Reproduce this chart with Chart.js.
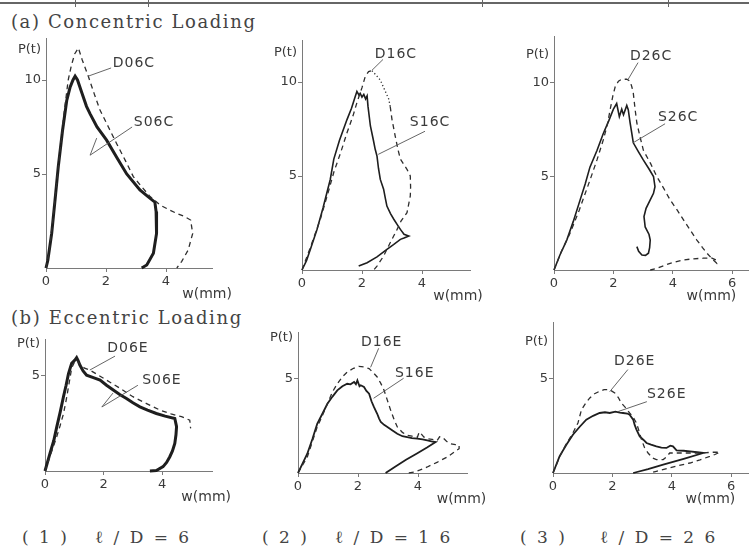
<!DOCTYPE html>
<html>
<head>
<meta charset="utf-8">
<script src="https://cdn.jsdelivr.net/npm/chart.js@4.4.1/dist/chart.umd.min.js"></script>
<style>
    body { margin: 0; width: 749px; height: 553px; position: relative; overflow: hidden; background: #fff; }
    canvas { position: absolute; }
    .rule { position: absolute; left: 0; top: 2px; width: 749px; height: 2px; background: #666; }
    .tick { position: absolute; top: 0; width: 1px; height: 7px; background: #666; }
    .title { position: absolute; left: 11px; font-family: "DejaVu Serif", serif; font-size: 18px; line-height: 18px;
             letter-spacing: 1.6px; color: #444; white-space: pre; }
    .caption { position: absolute; top: 529px; font-family: "DejaVu Serif", serif; font-size: 17px; line-height: 17px;
               letter-spacing: 2.5px; color: #444; white-space: pre; }
</style>
</head>
<body>
<div class="rule"></div>
<div class="tick" style="left:75px"></div>
<div class="tick" style="left:148px"></div>
<div class="tick" style="left:482px"></div>
<div class="tick" style="left:668px"></div>
<div class="title" style="top:13px">(a) Concentric Loading</div>
<div class="title" style="top:309px">(b) Eccentric Loading</div>
<div class="caption" style="left:22px">( 1 )</div>
<div class="caption" style="left:95px">ℓ / D = 6</div>
<div class="caption" style="left:262px">( 2 )</div>
<div class="caption" style="left:335px">ℓ / D = 1 6</div>
<div class="caption" style="left:520px">( 3 )</div>
<div class="caption" style="left:600px">ℓ / D = 2 6</div>
<script>
// load P(t) vs deflection w(mm): [w, P]
const s06c = [[0,0],[0.06,0.4],[0.19,1.85],[0.3,3.6],[0.41,5.4],[0.55,7.3],[0.69,8.9],[0.8,9.6],[0.9,10.0],[0.97,10.2],
    [1.05,10.0],[1.2,9.3],[1.35,8.6],[1.47,8.2],[1.7,7.5],[2.02,6.8],[2.35,5.9],[2.69,5.0],[3.13,4.15],[3.4,3.8],[3.63,3.5],
    [3.67,3.0],[3.68,2.4],[3.69,1.84],[3.58,0.78],[3.36,0.16],[3.19,0]];
const d06c = [[0,0],[0.1,0.8],[0.22,2.4],[0.45,6.0],[0.6,8.2],[0.74,10.0],[0.85,10.8],[0.96,11.4],[1.08,11.7],[1.2,11.1],
    [1.41,10.2],[1.6,9.3],[1.8,8.4],[2.08,7.5],[2.36,6.6],[2.65,5.7],[2.91,4.86],[3.2,4.3],[3.47,3.8],[3.8,3.35],[4.1,3.1],
    [4.36,2.9],[4.6,2.75],[4.82,2.55],[4.89,1.84],[4.74,0.96],[4.52,0.34],[4.36,0]];

const s16c = [[0,0],[0.15,0.5],[0.3,1.2],[0.5,2.16],[0.7,3.3],[0.94,4.8],[1.06,5.9],[1.25,6.9],[1.5,8.0],[1.65,8.6],
    [1.78,9.26],[1.83,9.5],[1.9,9.3],[1.94,9.4],[2.0,9.2],[2.06,9.34],[2.12,9.1],[2.17,9.26],[2.2,8.7],[2.28,7.66],[2.38,6.9],
    [2.44,6.42],[2.5,6.06],[2.55,5.4],[2.61,4.82],[2.72,4.3],[2.78,3.8],[2.83,3.4],[2.95,3.0],[3.06,2.7],[3.18,2.4],
    [3.28,2.16],[3.4,1.9],[3.56,1.81],[3.4,1.7],[3.28,1.63],[3.05,1.35],[2.83,1.1],[2.5,0.7],[2.17,0.39],[1.89,0.21]];
const d16c = [[0,0],[0.3,1.3],[0.61,2.7],[0.85,4.0],[1.06,5.2],[1.3,6.3],[1.5,7.3],[1.7,8.2],[1.83,8.9],[2.0,9.7],
    [2.11,10.3],[2.22,10.55],[2.33,10.6],[2.45,10.4],[2.61,10.1],[2.75,9.6],[2.89,9.1],[2.94,8.7],[3.0,8.0],[3.11,7.1],
    [3.2,6.4],[3.28,5.9],[3.5,5.35],[3.61,5.0],[3.62,4.4],[3.61,3.94],[3.5,3.05],[3.3,2.6],[3.17,2.16],[2.94,1.45],
    [2.72,0.74],[2.5,0.21],[2.39,0]];

const s26c = [[0,0],[0.2,0.8],[0.43,1.6],[0.65,2.6],[0.88,3.75],[1.05,4.6],[1.21,5.5],[1.45,6.4],[1.66,7.3],[1.85,8.0],
    [2.0,8.6],[2.11,8.9],[2.2,8.2],[2.28,8.6],[2.34,8.3],[2.45,8.8],[2.5,8.57],[2.56,7.9],[2.62,7.3],[2.67,6.8],[2.85,6.3],
    [3.0,5.9],[3.2,5.4],[3.35,5.0],[3.4,4.46],[3.35,4.1],[3.24,3.75],[3.1,3.3],[3.03,2.86],[3.07,2.3],[3.2,1.9],[3.24,1.6],
    [3.22,1.2],[3.18,0.9],[3.08,0.78],[2.96,0.8],[2.85,1.0],[2.79,1.25]];
const d26c = [[0,0],[0.25,1.0],[0.54,1.96],[0.85,3.2],[1.21,4.8],[1.45,5.9],[1.66,6.96],[1.8,7.8],[1.89,8.57],[1.98,9.3],
    [2.06,9.8],[2.17,10.1],[2.28,10.2],[2.45,10.2],[2.56,10.1],[2.62,9.8],[2.67,9.46],[2.73,8.6],[2.79,7.86],[2.9,7.1],
    [3.01,6.4],[3.25,5.7],[3.46,5.0],[3.7,4.35],[3.91,3.75],[4.15,3.2],[4.36,2.68],[4.6,2.1],[4.81,1.6],[5.0,1.2],
    [5.15,0.9],[5.35,0.55],[5.48,0.36],[5.5,0.5],[5.3,0.65],[5.03,0.63],[4.7,0.6],[4.36,0.54],[3.91,0.36],[3.46,0.09],[3.24,0]];

const s06e = [[0,0],[0.17,0.93],[0.3,1.6],[0.4,2.3],[0.52,3.1],[0.63,3.9],[0.72,4.5],[0.8,5.1],[0.91,5.65],[1.02,5.82],
    [1.08,5.95],[1.13,5.8],[1.19,5.56],[1.3,5.25],[1.42,5.03],[1.65,4.9],[1.88,4.77],[2.1,4.5],[2.33,4.25],[2.55,4.02],
    [2.78,3.81],[3.0,3.58],[3.24,3.37],[3.5,3.2],[3.8,3.02],[4.1,2.88],[4.43,2.76],[4.49,2.33],[4.47,1.9],[4.43,1.45],
    [4.35,1.05],[4.26,0.75],[4.15,0.45],[4.03,0.23],[3.8,0.02],[3.58,0]];
const d06e = [[0,0],[0.2,0.9],[0.4,1.8],[0.52,2.4],[0.63,3.0],[0.72,3.7],[0.8,4.4],[0.91,5.4],[1.0,5.7],[1.08,5.82],
    [1.2,5.6],[1.35,5.4],[1.53,5.3],[1.8,5.05],[2.1,4.77],[2.55,4.35],[3.0,3.9],[3.45,3.55],[3.92,3.2],[4.3,3.0],
    [4.66,2.85],[4.94,2.67],[4.97,2.24]];

const s16e = [[0,0],[0.15,0.5],[0.31,1.02],[0.48,1.8],[0.64,2.6],[0.8,3.1],[0.98,3.67],[1.15,4.05],[1.31,4.38],[1.48,4.6],
    [1.64,4.73],[1.75,4.7],[1.87,4.82],[1.93,4.7],[1.98,4.91],[2.05,4.6],[2.09,4.65],[2.2,4.56],[2.28,4.35],[2.37,4.2],
    [2.45,3.8],[2.53,3.5],[2.64,3.14],[2.7,2.9],[2.76,2.7],[2.87,2.55],[2.98,2.44],[3.15,2.25],[3.31,2.08],[3.48,1.95],
    [3.64,1.9],[3.8,1.85],[3.98,1.82],[4.15,1.78],[4.31,1.73],[4.45,1.68],[4.59,1.64],[4.3,1.35],[3.95,1.02],[3.6,0.7],
    [3.25,0.35],[2.92,0]];
const d16e = [[0,0],[0.31,0.85],[0.64,2.44],[0.8,3.0],[0.98,3.67],[1.15,4.3],[1.31,4.73],[1.48,5.1],[1.64,5.35],[1.85,5.55],
    [2.03,5.65],[2.2,5.62],[2.37,5.53],[2.52,5.3],[2.64,5.09],[2.76,4.75],[2.87,4.38],[2.98,3.85],[3.09,3.32],[3.2,2.85],
    [3.31,2.44],[3.48,2.15],[3.64,2.0],[3.8,1.95],[3.98,1.9],[4.04,2.17],[4.09,2.1],[4.2,1.9],[4.31,1.82],[4.47,1.78],
    [4.64,1.73],[4.72,1.92],[4.81,1.9],[4.95,1.68],[5.09,1.55],[5.25,1.5],[5.37,1.47],[5.37,1.29],[5.2,1.1],[4.98,0.85],
    [4.65,0.58],[4.31,0.32],[4.05,0.15],[3.87,0.05],[3.64,0]];

const s26e = [[0,0],[0.22,0.88],[0.45,1.5],[0.67,2.03],[0.9,2.45],[1.12,2.83],[1.35,3.03],[1.57,3.18],[1.75,3.22],
    [1.91,3.18],[2.1,3.25],[2.25,3.2],[2.36,3.18],[2.5,3.15],[2.58,3.09],[2.7,2.83],[2.75,2.55],[2.81,2.3],[2.92,1.94],
    [3.05,1.75],[3.15,1.59],[3.3,1.5],[3.48,1.41],[3.65,1.35],[3.82,1.33],[3.95,1.45],[4.04,1.41],[4.16,1.2],[4.4,1.18],
    [4.61,1.15],[4.85,1.1],[5.06,1.06],[4.4,0.75],[3.71,0.44],[3.2,0.2],[2.7,0]];
const d26e = [[0,0],[0.22,0.85],[0.45,1.55],[0.67,2.12],[0.84,2.65],[0.96,3.36],[1.1,3.7],[1.24,3.98],[1.4,4.2],[1.57,4.33],
    [1.72,4.42],[1.85,4.42],[1.97,4.35],[2.08,4.24],[2.2,4.0],[2.3,3.71],[2.45,3.45],[2.58,3.18],[2.7,2.95],[2.81,2.65],
    [2.9,2.2],[2.98,1.77],[3.08,1.35],[3.2,1.06],[3.35,0.8],[3.48,0.71],[3.6,0.7],[3.71,0.71],[3.82,0.85],[3.93,1.06],
    [4.16,1.06],[4.61,1.06],[5.06,1.06],[5.35,1.1],[5.62,1.1],[5.45,0.98],[5.28,0.88],[4.95,0.7],[4.61,0.53],[4.25,0.4],
    [3.93,0.27],[3.48,0.09],[3.26,0]];

const ticksTop = [5, 10];
const ticksBottom = [5];
const wTicksShort = [0, 2, 4];
const wTicksLong = [0, 2, 4, 6];

// page position of each origin (x0,y0), px per unit, axis extents, label spots in data units
const panels = [
    {x0: 46, y0: 268, ux: 30, uy: 18.8, xMax: 5.55, yMax: 12.2, xTicks: wTicksShort, yTicks: ticksTop,
     solid: s06c, dashed: d06c, solidWidth: 3, pY: 11.6, wX: 5.37,
     notes: [{text: 'D06C', x: 2.93, y: 10.9, lines: [[2.17, 10.64, 1.4, 10.2]]},
             {text: 'S06C', x: 3.6, y: 7.77, lines: [[2.87, 7.5, 1.47, 6.0], [1.47, 6.0, 1.69, 6.91]]}]},
    {x0: 302, y0: 270, ux: 30, uy: 18.8, xMax: 5.6, yMax: 12.2, xTicks: wTicksShort, yTicks: ticksTop,
     solid: s16c, dashed: d16c, solidWidth: 1.6, dotted: [12, 17], pY: 11.55, wX: 5.2,
     notes: [{text: 'D16C', x: 3.13, y: 11.47, lines: [[2.7, 11.2, 2.33, 10.62]]},
             {text: 'S16C', x: 4.27, y: 7.86, lines: [[4.1, 7.38, 2.54, 6.15]]}]},
    {x0: 554, y0: 270, ux: 29.7, uy: 18.7, xMax: 6.6, yMax: 12.5, xTicks: wTicksLong, yTicks: ticksTop,
     solid: s26c, dashed: d26c, solidWidth: 1.6, pY: 11.5, wX: 5.3,
     notes: [{text: 'D26C', x: 3.27, y: 11.4, lines: [[2.83, 11.09, 2.49, 10.18]]},
             {text: 'S26C', x: 4.18, y: 8.14, lines: [[3.74, 7.82, 2.66, 6.8]]}]},
    {x0: 45, y0: 471, ux: 29.3, uy: 19.05, xMax: 5.7, yMax: 6.9, xTicks: wTicksShort, yTicks: ticksBottom,
     solid: s06e, dashed: d06e, solidWidth: 3, pY: 6.7, wX: 5.5,
     notes: [{text: 'D06E', x: 2.83, y: 6.45, lines: [[2.39, 6.03, 1.53, 5.3]]},
             {text: 'S06E', x: 3.99, y: 4.77, lines: [[3.17, 4.5, 1.94, 3.36], [1.94, 3.36, 2.32, 4.09]]}]},
    {x0: 298, y0: 473, ux: 30, uy: 18.87, xMax: 5.65, yMax: 7.45, xTicks: wTicksShort, yTicks: ticksBottom,
     solid: s16e, dashed: d16e, solidWidth: 1.8, pY: 7.2, wX: 5.45,
     notes: [{text: 'D16E', x: 2.79, y: 6.92, lines: [[2.69, 6.61, 2.42, 5.6]]},
             {text: 'S16E', x: 3.89, y: 5.28, lines: [[3.52, 5.02, 2.52, 3.96]]}]},
    {x0: 553, y0: 473, ux: 29.7, uy: 18.87, xMax: 6.6, yMax: 7.95, xTicks: wTicksLong, yTicks: ticksBottom,
     solid: s26e, dashed: d26e, solidWidth: 1.8, pY: 6.95, wX: 5.3,
     notes: [{text: 'D26E', x: 2.75, y: 5.9, lines: [[2.52, 5.48, 1.91, 4.31]]},
             {text: 'S26E', x: 3.83, y: 4.15, lines: [[3.16, 3.78, 2.18, 3.25]]}]}
];

const textFont = '"DejaVu Sans", sans-serif';

// axis captions, curve names and leader lines
const notesPlugin = {
    id: 'notes',
    afterDatasetsDraw(chart) {
        const p = chart.options.plugins.notes.panel;
        const xs = chart.scales.x, ys = chart.scales.y;
        const c = chart.ctx;
        c.save();
        c.fillStyle = '#3a3a3a';
        c.textBaseline = 'middle';

        c.font = '13px ' + textFont;
        c.textAlign = 'right';
        c.fillText('P(t)', xs.left - 5, ys.getPixelForValue(p.pY));

        c.font = '14px ' + textFont;
        c.textAlign = 'center';
        c.fillText('w(mm)', xs.getPixelForValue(p.wX), ys.bottom + 26);

        c.strokeStyle = '#555';
        c.lineWidth = 0.9;
        c.letterSpacing = '1px';
        for (const n of p.notes) {
            c.fillText(n.text, xs.getPixelForValue(n.x), ys.getPixelForValue(n.y));
            for (const l of n.lines) {
                c.beginPath();
                c.moveTo(xs.getPixelForValue(l[0]), ys.getPixelForValue(l[1]));
                c.lineTo(xs.getPixelForValue(l[2]), ys.getPixelForValue(l[3]));
                c.stroke();
            }
        }
        c.restore();
    }
};

function makePanel(p) {
    const W = 45, H = 40, R = 45;
    const plotW = p.xMax * p.ux;
    const plotH = p.yMax * p.uy;
    const top = Math.floor(p.y0 - plotH - 10);

    const canvas = document.createElement('canvas');
    canvas.width = Math.round(W + plotW + R);
    canvas.height = p.y0 - top + H;
    canvas.style.left = (p.x0 - W) + 'px';
    canvas.style.top = top + 'px';
    document.body.appendChild(canvas);

    const axisLine = {display: true, color: '#7a7a7a', width: 1};
    const grid = {display: true, drawOnChartArea: false, tickLength: 4, color: '#7a7a7a'};
    const tickFont = {family: textFont, size: 13};

    new Chart(canvas.getContext('2d'), {
        type: 'scatter',
        data: {
            datasets: [{
                data: p.dashed.map(([x, y]) => ({x, y})),
                showLine: true,
                borderColor: '#2e2e2e',
                borderWidth: 1.3,
                borderDash: [5, 4],
                pointRadius: 0,
                tension: 0,
                segment: {
                    borderDash: function (ctx) {
                        if (p.dotted && ctx.p0DataIndex >= p.dotted[0] && ctx.p0DataIndex < p.dotted[1]) return [1.2, 2.4];
                        return undefined;
                    }
                }
            }, {
                data: p.solid.map(([x, y]) => ({x, y})),
                showLine: true,
                borderColor: '#1e1e1e',
                borderWidth: p.solidWidth,
                pointRadius: 0,
                tension: 0
            }]
        },
        options: {
            responsive: false,
            animation: false,
            clip: false,
            layout: {padding: {left: 0, top: p.y0 - plotH - top, right: canvas.width - W - plotW, bottom: 0}},
            plugins: {legend: {display: false}, tooltip: {enabled: false}, notes: {panel: p}},
            scales: {
                x: {
                    type: 'linear', min: 0, max: p.xMax,
                    border: axisLine, grid: grid,
                    ticks: {color: '#3a3a3a', font: tickFont, padding: 2, maxRotation: 0},
                    afterBuildTicks: s => { s.ticks = p.xTicks.map(v => ({value: v})); },
                    afterFit: s => { s.height = H; }
                },
                y: {
                    type: 'linear', min: 0, max: p.yMax,
                    border: axisLine, grid: grid,
                    ticks: {color: '#3a3a3a', font: tickFont, padding: 1},
                    afterBuildTicks: s => { s.ticks = p.yTicks.map(v => ({value: v})); },
                    afterFit: s => { s.width = W; }
                }
            }
        },
        plugins: [notesPlugin]
    });
}

document.addEventListener("DOMContentLoaded", function () {
    panels.forEach(makePanel);
});
</script>
</body>
</html>
